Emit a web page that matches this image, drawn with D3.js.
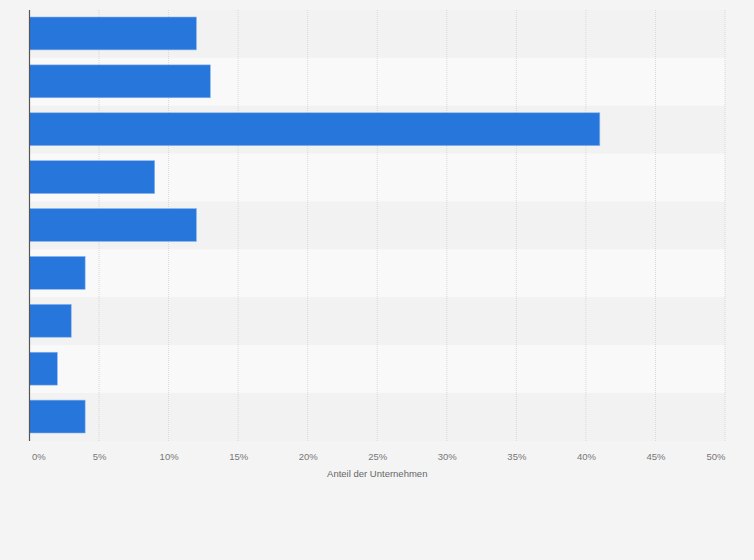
<!DOCTYPE html>
<html>
<head>
<meta charset="utf-8">
<script src="https://cdn.jsdelivr.net/npm/d3@7"></script>
<style>
    body { margin: 0; background: #f4f4f4; }
    svg { display: block; font-family: "Liberation Sans", Arial, sans-serif; }
</style>
</head>
<body>
<svg id="chart" width="754" height="560"></svg>
<script>
// categories have no visible labels in the reference, so keep simple ids
const categories = ["c1", "c2", "c3", "c4", "c5", "c6", "c7", "c8", "c9"];
const values = [12, 13, 41, 9, 12, 4, 3, 2, 4];
const tickValues = [0, 5, 10, 15, 20, 25, 30, 35, 40, 45, 50];
const axisTitle = "Anteil der Unternehmen";

const svg = d3.select("#chart");
const margin = { top: 10, right: 29, bottom: 119, left: 29.5 };
const width = 754 - margin.left - margin.right;
const height = 560 - margin.top - margin.bottom;

const g = svg.append("g").attr("transform", `translate(${margin.left},${margin.top})`);

const x = d3.scaleLinear().domain([0, 50]).range([0, width]);
const y = d3.scaleBand().domain(categories).range([0, height]).paddingInner(0).paddingOuter(0);

// alternating row bands
g.selectAll(".band")
    .data(categories)
    .enter()
    .append("rect")
    .attr("x", 0)
    .attr("y", (d) => y(d))
    .attr("width", width)
    .attr("height", y.bandwidth())
    .attr("fill", (d, i) => (i % 2 ? "#f9f9f9" : "#f2f2f2"));

// dotted vertical grid
g.selectAll(".grid")
    .data(tickValues.slice(1))
    .enter()
    .append("line")
    .attr("x1", (d) => x(d))
    .attr("x2", (d) => x(d))
    .attr("y1", 0)
    .attr("y2", height)
    .attr("stroke", "#d8d8d8")
    .attr("stroke-dasharray", "1,1");

// bars
const barPad = 7;
g.selectAll(".bar")
    .data(values)
    .enter()
    .append("rect")
    .attr("x", 0)
    .attr("y", (d, i) => y(categories[i]) + barPad)
    .attr("width", (d) => x(d))
    .attr("height", y.bandwidth() - 2 * barPad - 1)
    .attr("fill", "#2776dc")
    .attr("stroke", "#8db6ee")
    .attr("stroke-width", 0.6);

// left axis line
g.append("line")
    .attr("x1", 0)
    .attr("x2", 0)
    .attr("y1", 0)
    .attr("y2", height)
    .attr("stroke", "#555")
    .attr("stroke-width", 1.2);

// x tick labels
const xAxis = g.append("g")
    .attr("transform", `translate(0,${height})`)
    .call(d3.axisBottom(x).tickValues(tickValues).tickFormat((d) => d + "%").tickSize(0).tickPadding(12));
xAxis.select(".domain").remove();
xAxis.selectAll("text")
    .attr("fill", "#777")
    .attr("font-size", "9.5px")
    .attr("text-anchor", (d) => (d === 0 ? "start" : d === 50 ? "end" : "middle"))
    .attr("dx", (d) => (d === 0 ? "0.2em" : 0));

// axis title
g.append("text")
    .attr("x", width / 2)
    .attr("y", height + 36)
    .attr("text-anchor", "middle")
    .attr("fill", "#666")
    .attr("font-size", "9.5px")
    .text(axisTitle);
</script>
</body>
</html>
